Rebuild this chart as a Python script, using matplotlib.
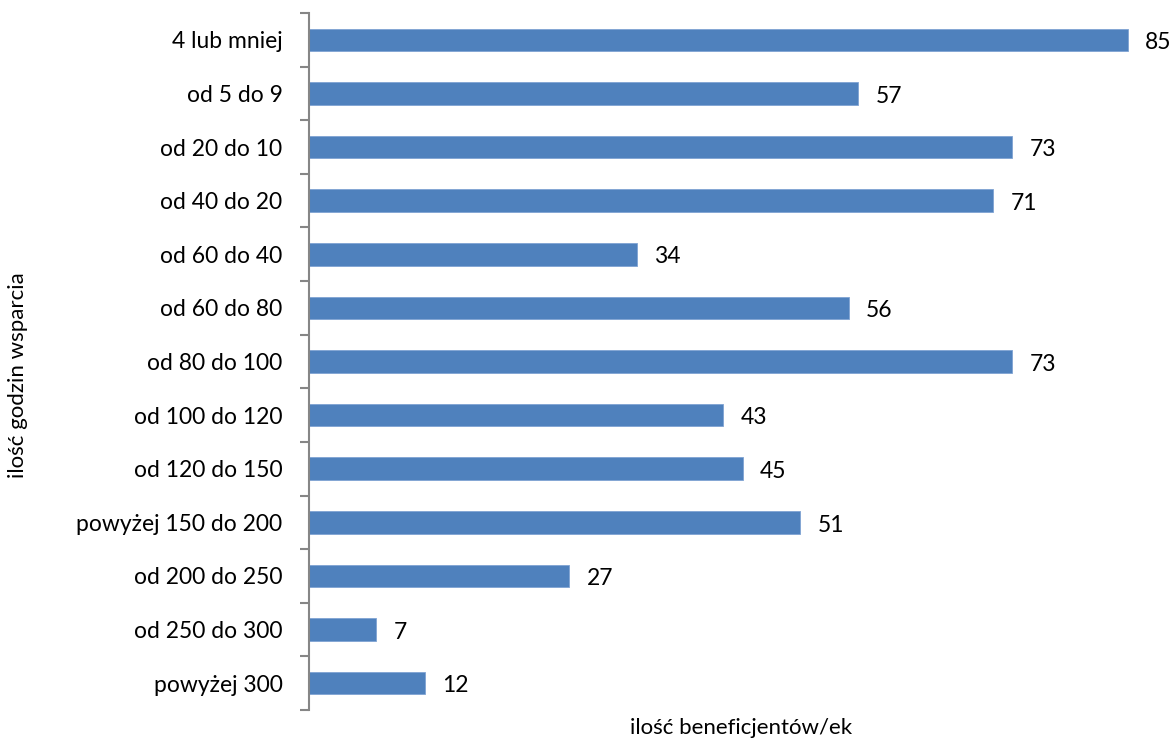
import numpy as np
import matplotlib.pyplot as plt

kategorie = ['4 lub mniej', 'od 5 do 9', 'od 20 do 10', 'od 40 do 20', 'od 60 do 40',
             'od 60 do 80', 'od 80 do 100', 'od 100 do 120', 'od 120 do 150',
             'powyżej 150 do 200', 'od 200 do 250', 'od 250 do 300', 'powyżej 300']
wartosci = [85, 57, 73, 71, 34, 56, 73, 43, 45, 51, 27, 7, 12]

plt.rcParams['font.family'] = ['Lato', 'DejaVu Sans']

fig = plt.figure(figsize=(11.73, 7.4), dpi=100)
ax = fig.add_axes([309/1173, 1 - 710/740, 864/1173, 697/740])

y = np.arange(len(kategorie))
ax.barh(y, wartosci, height=0.42, color='#4F81BD', edgecolor='#7FA3D3', linewidth=0.6)
for yi, v in zip(y, wartosci):
    ax.text(v + 1.8, yi + 0.05, str(v), va='center', ha='left', fontsize=16.5)

ax.set_xlim(0, 864/9.635)
ax.set_ylim(len(kategorie) - 0.5, -0.5)

# granice kategorii jako kreski, etykiety w srodku
ax.set_yticks(np.arange(-0.5, len(kategorie)), labels=[])
ax.set_yticks(y, labels=kategorie, minor=True)
ax.tick_params(axis='y', which='major', length=6.5, color='#868686', width=1.5)
ax.tick_params(axis='y', which='minor', length=0, pad=19, labelsize=16.5)
ax.set_xticks([])

for s in ['top', 'right', 'bottom']:
    ax.spines[s].set_visible(False)
ax.spines['left'].set_color('#868686')
ax.spines['left'].set_linewidth(1.5)

ax.set_xlabel('ilość beneficjentów/ek', fontsize=16)
ax.xaxis.set_label_coords(0.5, -0.012)
ax.set_ylabel('ilość godzin wsparcia', fontsize=16)
ax.yaxis.set_label_coords((28 - 309)/864, 0.48)

fig.savefig('out.png', dpi=100)
